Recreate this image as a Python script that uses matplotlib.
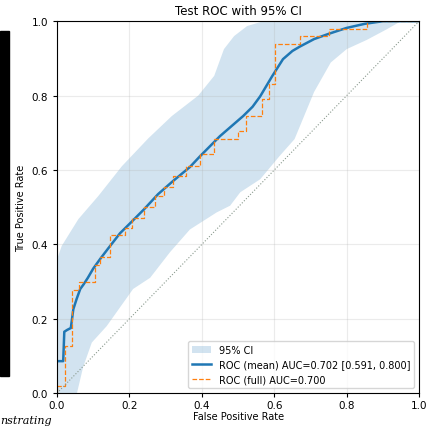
import matplotlib
matplotlib.use("Agg")
import matplotlib.pyplot as plt
from matplotlib.patches import Rectangle

# mean ROC curve (bootstrap mean)
fpr_mean = [0, 0.017, 0.02, 0.028, 0.038, 0.045, 0.054, 0.064, 0.073, 0.085, 0.1, 0.12,
            0.142, 0.174, 0.2, 0.24, 0.279, 0.32, 0.367, 0.395, 0.45, 0.514, 0.54, 0.561,
            0.594, 0.624, 0.65, 0.671, 0.71, 0.75, 0.8, 0.85, 0.9, 0.95, 1.0]
tpr_mean = [0.086, 0.086, 0.165, 0.17, 0.175, 0.226, 0.253, 0.28, 0.292, 0.31, 0.335, 0.362,
            0.39, 0.43, 0.455, 0.494, 0.535, 0.57, 0.608, 0.637, 0.691, 0.745, 0.77, 0.798,
            0.852, 0.898, 0.92, 0.932, 0.952, 0.966, 0.982, 0.993, 1.0, 1.0, 1.0]

# full-sample ROC (step curve)
fpr_full = [0, 0, 0.022, 0.022, 0.04, 0.04, 0.06, 0.06, 0.105, 0.105, 0.119, 0.119,
            0.146, 0.146, 0.188, 0.188, 0.206, 0.206, 0.24, 0.24, 0.27, 0.27, 0.295, 0.295,
            0.32, 0.32, 0.357, 0.357, 0.395, 0.395, 0.434, 0.434, 0.50, 0.50, 0.521, 0.521,
            0.567, 0.567, 0.586, 0.586, 0.603, 0.603, 0.671, 0.671, 0.751, 0.751, 0.855,
            0.855, 1.0]
tpr_full = [0, 0.02, 0.02, 0.127, 0.127, 0.277, 0.277, 0.30, 0.30, 0.345, 0.345, 0.366,
            0.366, 0.425, 0.425, 0.445, 0.445, 0.47, 0.47, 0.50, 0.50, 0.53, 0.53, 0.555,
            0.555, 0.585, 0.585, 0.611, 0.611, 0.643, 0.643, 0.683, 0.683, 0.705, 0.705, 0.745,
            0.745, 0.79, 0.79, 0.83, 0.83, 0.938, 0.938, 0.96, 0.96, 0.978, 0.978,
            1.0, 1.0]

# 95% CI band edges
up_fpr = [0, 0.013, 0.059, 0.114, 0.179, 0.252, 0.317, 0.39, 0.434, 0.461, 0.489, 0.525, 0.57, 1.0]
up_tpr = [0.36, 0.396, 0.468, 0.53, 0.61, 0.685, 0.745, 0.80, 0.853, 0.925, 0.96, 0.987, 1.0, 1.0]
lo_fpr = [0.055, 0.072, 0.096, 0.137, 0.21, 0.257, 0.312, 0.367, 0.441, 0.478, 0.506, 0.561,
          0.615, 0.656, 0.71, 0.756, 0.8, 0.856, 0.91, 0.95, 1.0]
lo_tpr = [0.0, 0.07, 0.136, 0.18, 0.28, 0.31, 0.379, 0.44, 0.486, 0.504, 0.54, 0.575,
          0.638, 0.683, 0.81, 0.889, 0.925, 0.95, 0.978, 1.0, 1.0]

chance = [0, 1]
ticks = [0.0, 0.2, 0.4, 0.6, 0.8, 1.0]

fig = plt.figure(figsize=(4.29, 4.27), dpi=100)
ax = fig.add_axes([0.133, 0.077, 0.844, 0.871])

band_x = [0] + up_fpr + lo_fpr[::-1] + [0]
band_y = [0] + up_tpr + lo_tpr[::-1] + [0]
ax.fill(band_x, band_y, color='tab:blue', alpha=0.2, lw=0, label='95% CI')
ax.plot(fpr_mean, tpr_mean, color='tab:blue', lw=1.8, label='ROC (mean) AUC=0.702 [0.591, 0.800]')
ax.plot(fpr_full, tpr_full, color='tab:orange', lw=0.9, ls='--', label='ROC (full) AUC=0.700')
ax.plot(chance, chance, color='#8a9a8e', lw=0.8, ls=':')

ax.set_xlim(0, 1)
ax.set_ylim(0, 1)
ax.set_xticks(ticks)
ax.set_yticks(ticks)
ax.tick_params(labelsize=7.5, length=3, width=0.8)
ax.tick_params(axis='x', pad=2)
ax.grid(True, alpha=0.25)
ax.set_title('Test ROC with 95% CI', fontsize=8.5, pad=5)
ax.set_xlabel('False Positive Rate', fontsize=7, labelpad=1)
ax.set_ylabel('True Positive Rate', fontsize=7)
ax.legend(loc='lower right', fontsize=7)

# page artifacts around the screenshot
fig.patches.append(Rectangle((0, 0.117), 0.021, 0.808, transform=fig.transFigure,
                             color='black', zorder=0))
fig.text(0.0, 0.014, 'nstrating', fontsize=8, style='italic', family='DejaVu Serif',
         va='center', ha='left')

fig.savefig('out.png', dpi=100)
